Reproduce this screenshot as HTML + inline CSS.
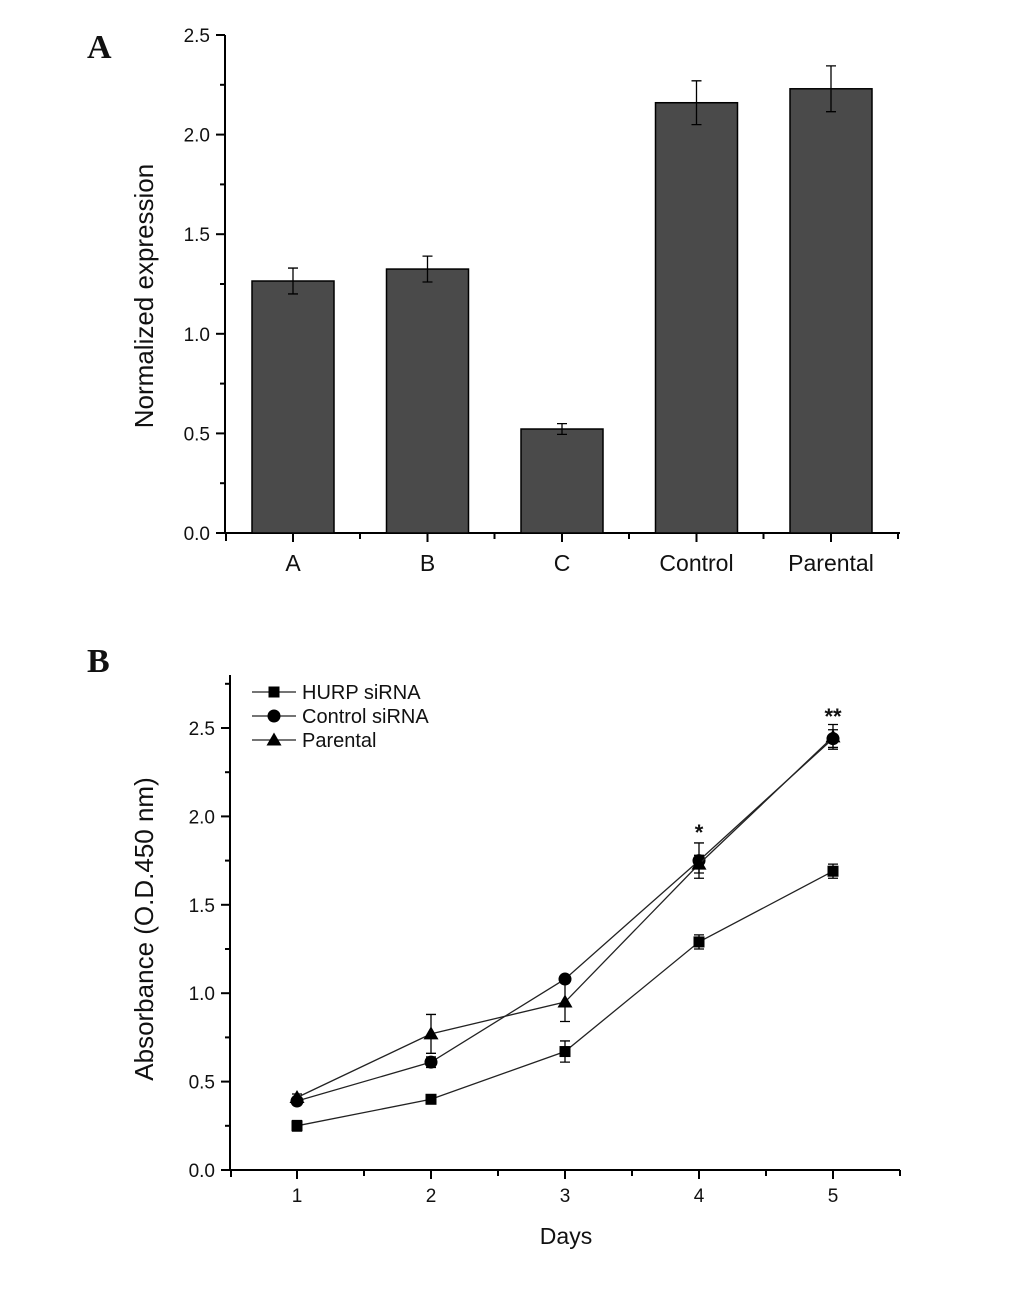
<!DOCTYPE html>
<html><head><meta charset="utf-8"><style>
body{margin:0;background:#fff;}
svg text{font-family:"Liberation Sans",Arial,sans-serif;fill:#111;}
</style></head><body>
<svg id="s" width="1033" height="1298" xmlns="http://www.w3.org/2000/svg">
<text x="87" y="58" style="font-family:'Liberation Serif',serif;font-weight:bold;font-size:34px">A</text>
<text x="87" y="672" style="font-family:'Liberation Serif',serif;font-weight:bold;font-size:34px">B</text>
<g id="ga"></g>
<g id="gb"></g>
</svg>
<script>
const barCats=["A","B","C","Control","Parental"];
const barVals=[1.265,1.325,0.522,2.16,2.23];
const barErr=[0.065,0.065,0.027,0.11,0.115];
const barTicks=["0.0","0.5","1.0","1.5","2.0","2.5"];
const days=["1","2","3","4","5"];
const hurpVals=[0.25,0.40,0.67,1.29,1.69];
const hurpErr=[0.03,0.02,0.06,0.04,0.04];
const ctrlVals=[0.39,0.61,1.08,1.75,2.44];
const ctrlErr=[0.02,0.03,0.02,0.10,0.05];
const parVals=[0.41,0.77,0.95,1.73,2.45];
const parErr=[0.02,0.11,0.11,0.05,0.07];
const lineTicks=["0.0","0.5","1.0","1.5","2.0","2.5"];
const NS="http://www.w3.org/2000/svg";
function mk(p,t,a){const e=document.createElementNS(NS,t);for(const k in a)e.setAttribute(k,a[k]);p.appendChild(e);return e;}
// Panel A
const ga=document.getElementById('ga');
const yA=v=>533-v*199.2, xA=i=>293+i*134.5;
let e;
e=mk(ga,'line',{x1:225,y1:533,x2:900,y2:533,stroke:'#000','stroke-width':2});

e=mk(ga,'line',{x1:225,y1:35,x2:225,y2:534,stroke:'#000','stroke-width':2});

barTicks.forEach((t,i)=>{const v=parseFloat(t);mk(ga,'line',{x1:216,y1:yA(v),x2:225,y2:yA(v),stroke:'#000','stroke-width':2});
 if(i<barTicks.length-1)mk(ga,'line',{x1:220,y1:yA(v+0.25),x2:225,y2:yA(v+0.25),stroke:'#000','stroke-width':2});
 e=mk(ga,'text',{x:210,y:yA(v)+7,'text-anchor':'end','font-size':19});e.textContent=t;
 });
mk(ga,'line',{x1:226,y1:533,x2:226,y2:541,stroke:'#000','stroke-width':2});
barCats.forEach((c,i)=>{const x=xA(i);
 mk(ga,'line',{x1:x,y1:533,x2:x,y2:542,stroke:'#000','stroke-width':2});
 mk(ga,'line',{x1:x+67,y1:533,x2:x+67,y2:539,stroke:'#000','stroke-width':2});
 e=mk(ga,'rect',{x:x-41,y:yA(barVals[i]),width:82,height:533-yA(barVals[i]),fill:'#4a4a4a',stroke:'#000','stroke-width':1.5});
 
 const t=yA(barVals[i]+barErr[i]),b=yA(barVals[i]-barErr[i]);
 e=mk(ga,'path',{d:`M${x},${t}V${b}M${x-5},${t}H${x+5}M${x-5},${b}H${x+5}`,stroke:'#000','stroke-width':1.3,fill:'none'});
 
 e=mk(ga,'text',{x:x,y:571,'text-anchor':'middle','font-size':23});e.textContent=c;
 });
e=mk(ga,'text',{x:0,y:0,'text-anchor':'middle','font-size':26,transform:'translate(153,296) rotate(-90)'});e.textContent='Normalized expression';

// Panel B
const gb=document.getElementById('gb');
const yB=v=>1170-v*176.8, xB=i=>297+i*134;
e=mk(gb,'line',{x1:230,y1:1170,x2:900,y2:1170,stroke:'#000','stroke-width':2});

e=mk(gb,'line',{x1:230,y1:675,x2:230,y2:1171,stroke:'#000','stroke-width':2});

lineTicks.forEach((t,i)=>{const v=parseFloat(t);mk(gb,'line',{x1:221,y1:yB(v),x2:230,y2:yB(v),stroke:'#000','stroke-width':2});
 mk(gb,'line',{x1:225,y1:yB(v+0.25),x2:230,y2:yB(v+0.25),stroke:'#000','stroke-width':2});
 e=mk(gb,'text',{x:215,y:yB(v)+7,'text-anchor':'end','font-size':19});e.textContent=t;
 });
mk(gb,'line',{x1:231,y1:1170,x2:231,y2:1177,stroke:'#000','stroke-width':2});
days.forEach((d,i)=>{const x=xB(i);
 mk(gb,'line',{x1:x,y1:1170,x2:x,y2:1179,stroke:'#000','stroke-width':2});
 mk(gb,'line',{x1:x+67,y1:1170,x2:x+67,y2:1176,stroke:'#000','stroke-width':2});
 e=mk(gb,'text',{x:x,y:1202,'text-anchor':'middle','font-size':19});e.textContent=d;
 });
function marker(g,type,x,y){
 if(type==='sq')return mk(g,'rect',{x:x-5.5,y:y-5.5,width:11,height:11,fill:'#000'});
 if(type==='ci')return mk(g,'circle',{cx:x,cy:y,r:6.5,fill:'#000'});
 return mk(g,'path',{d:`M${x},${y-7.5}L${x+7.5},${y+5.5}L${x-7.5},${y+5.5}Z`,fill:'#000'});}
function series(vals,err,type,name){
 const g=mk(gb,'g',{});
 e=mk(g,'polyline',{points:vals.map((v,i)=>xB(i)+','+yB(v)).join(' '),fill:'none',stroke:'#222','stroke-width':1.3});
 
 vals.forEach((v,i)=>{const x=xB(i),t=yB(v+err[i]),b=yB(v-err[i]);
  mk(g,'path',{d:`M${x},${t}V${b}M${x-5},${t}H${x+5}M${x-5},${b}H${x+5}`,stroke:'#000','stroke-width':1.3,fill:'none'});
  e=marker(g,type,x,yB(v));});}
series(hurpVals,hurpErr,'sq','hurp-sirna');
series(ctrlVals,ctrlErr,'ci','control-sirna');
series(parVals,parErr,'tr','parental');
e=mk(gb,'text',{x:xB(3),y:840,'text-anchor':'middle','font-size':22,'font-weight':'bold'});e.textContent='*';

e=mk(gb,'text',{x:xB(4),y:724,'text-anchor':'middle','font-size':22,'font-weight':'bold'});e.textContent='**';

const leg=[['sq','HURP siRNA'],['ci','Control siRNA'],['tr','Parental']];
leg.forEach((l,i)=>{const y=692+i*24;const g=mk(gb,'g',{});
 mk(g,'line',{x1:252,y1:y,x2:296,y2:y,stroke:'#222','stroke-width':1.3});marker(g,l[0],274,y);
 const t=mk(g,'text',{x:302,y:y+7,'font-size':20});t.textContent=l[1];});
e=mk(gb,'text',{x:566,y:1244,'text-anchor':'middle','font-size':23});e.textContent='Days';

e=mk(gb,'text',{x:0,y:0,'text-anchor':'middle','font-size':26,transform:'translate(153,929) rotate(-90)'});e.textContent='Absorbance (O.D.450 nm)';

</script>
</body></html>
